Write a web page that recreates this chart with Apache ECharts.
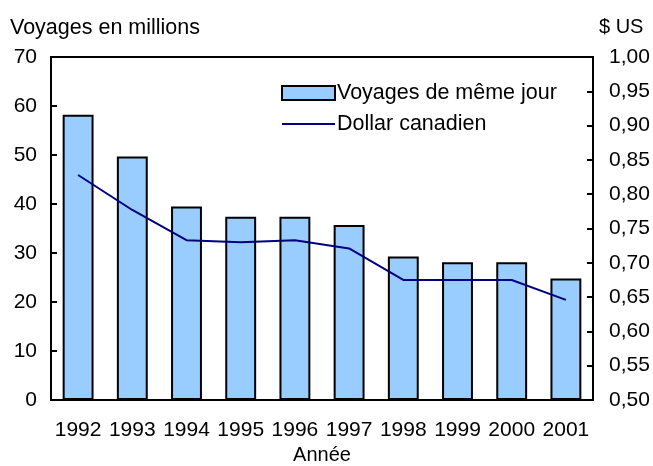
<!DOCTYPE html>
<html>
<head>
<meta charset="utf-8">
<script src="https://cdn.jsdelivr.net/npm/echarts@6/dist/echarts.min.js"></script>
<style>
  html, body { margin: 0; padding: 0; background: #fff; }
  #chart { width: 653px; height: 466px; }
</style>
</head>
<body>
<div id="chart"></div>
<script>
var years = ['1992', '1993', '1994', '1995', '1996', '1997', '1998', '1999', '2000', '2001'];
var voyages = [58.2, 49.7, 39.5, 37.4, 37.4, 35.7, 29.3, 28.1, 28.1, 24.8];
var dollar = [0.828, 0.777, 0.733, 0.730, 0.733, 0.721, 0.675, 0.675, 0.675, 0.646];

var font = 'Liberation Sans, Arial, sans-serif';
var myChart = echarts.init(document.getElementById('chart'));
var option = {
  animation: false,
  title: [
    { text: 'Voyages en millions', left: 5, top: 12, textStyle: { fontFamily: font, fontSize: 21.5, fontWeight: 'normal', color: '#000' } },
    { text: '$ US', left: 594, top: 12, textStyle: { fontFamily: font, fontSize: 20, fontWeight: 'normal', color: '#000' } }
  ],
  legend: {
    orient: 'vertical',
    left: 276,
    top: 77,
    itemWidth: 53,
    itemHeight: 14,
    itemGap: 9,
    textStyle: { fontFamily: font, fontSize: 21.5, color: '#000', padding: [0, 0, 0, -3] },
    data: [
      { name: 'Voyages de même jour', icon: 'rect', itemStyle: { borderColor: '#000', borderWidth: 2 } },
      { name: 'Dollar canadien', itemStyle: { opacity: 0 } }
    ]
  },
  grid: {
    left: 51, right: 60, top: 57, bottom: 66,
    outerBoundsMode: 'none',
    show: true, borderColor: '#000', borderWidth: 2
  },
  xAxis: {
    type: 'category',
    data: years,
    name: 'Année',
    nameLocation: 'middle',
    nameGap: 45,
    nameTextStyle: { fontFamily: font, fontSize: 20, color: '#000' },
    axisLine: { lineStyle: { color: '#000', width: 2 } },
    axisTick: { show: false },
    axisLabel: { fontFamily: font, fontSize: 21, color: '#000', margin: 20, interval: 0 }
  },
  yAxis: [
    {
      type: 'value', min: 0, max: 70, interval: 10,
      splitLine: { show: false },
      axisLine: { show: true, lineStyle: { color: '#000', width: 2 } },
      axisTick: { show: true, inside: true, length: 6, lineStyle: { color: '#000', width: 2 } },
      axisLabel: { fontFamily: font, fontSize: 21, color: '#000', margin: 14 }
    },
    {
      type: 'value', min: 0.5, max: 1.0, interval: 0.05,
      splitLine: { show: false },
      axisLine: { show: true, lineStyle: { color: '#000', width: 2 } },
      axisTick: { show: true, inside: true, length: 6, lineStyle: { color: '#000', width: 2 } },
      axisLabel: {
        fontFamily: font, fontSize: 21, color: '#000', margin: 16,
        formatter: function (v) { return v.toFixed(2).replace('.', ','); }
      }
    }
  ],
  series: [
    {
      name: 'Voyages de même jour',
      type: 'bar',
      barWidth: '57%',
      yAxisIndex: 0,
      itemStyle: { color: '#99ccff', borderColor: '#000', borderWidth: 2 },
      data: voyages
    },
    {
      name: 'Dollar canadien',
      type: 'line',
      yAxisIndex: 1,
      symbol: 'none',
      lineStyle: { color: '#000080', width: 2 },
      itemStyle: { color: '#000080' },
      data: dollar
    }
  ]
};
myChart.setOption(option);
</script>
</body>
</html>
